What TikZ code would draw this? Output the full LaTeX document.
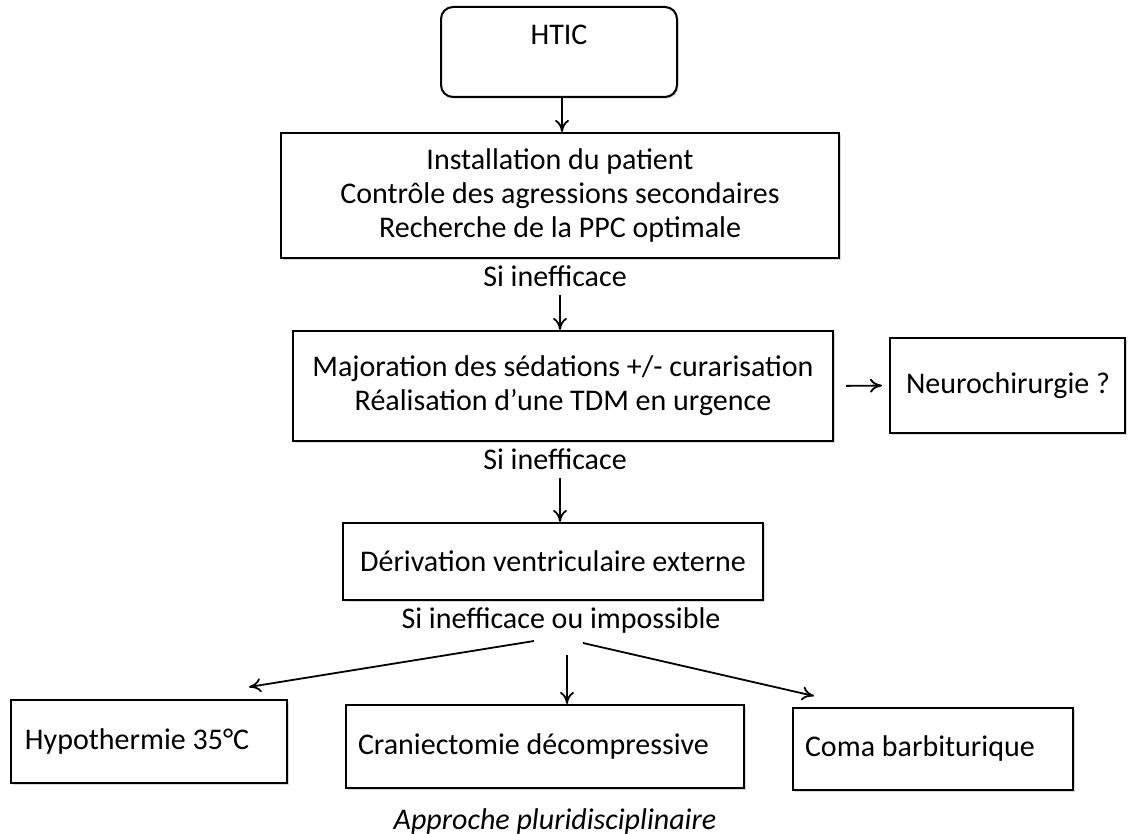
\documentclass[tikz,border=0pt]{standalone}
\usepackage{fontspec}
\setmainfont{Carlito}
\usepackage{tikz}
\usetikzlibrary{shapes, arrows.meta, positioning, shadows}

\begin{document}
\begin{tikzpicture}[
                x=0.5pt, y=-0.5pt,
                node distance=3pt,
                box/.style={rectangle, draw=black, line width=1pt, fill=white, inner sep=0pt, font=\fontsize{15}{17}\selectfont, align=center,
                    drop shadow={shadow xshift=0.8pt, shadow yshift=-0.8pt, opacity=0.3}},
                start/.style={box, rounded corners=6pt},
                note/.style={inner sep=0pt, font=\fontsize{15}{17}\selectfont},
                arrow/.style={-{To[length=6pt, width=7pt]}, line width=0.9pt}
            ]
                \useasboundingbox (0,0) rectangle (1132,834);

                % colonne principale
                \node[start, minimum width=118pt, minimum height=45pt, text height=9pt, text depth=16pt] (htic) at (559,52) {HTIC};
                \node[box, minimum width=279pt, minimum height=62.5pt] (install) at (560,195.5) {Installation du patient\\Contrôle des agressions secondaires\\Recherche de la PPC optimale};
                \node[note, below=3pt of install, xshift=-2.5pt] (si1) {Si inefficace};
                \node[box, minimum width=270pt, minimum height=55pt] (sedation) at (563,386) {Majoration des sédations +/- curarisation\\Réalisation d’une TDM en urgence};
                \node[note, below=3pt of sedation, xshift=-4pt] (si2) {Si inefficace};
                \node[box, minimum width=117.5pt, minimum height=47.5pt] (neuro) at (1007.5,385.5) {\makebox[101.5pt][l]{Neurochirurgie ?}};
                \node[box, minimum width=210pt, minimum height=38.5pt] (dve) at (553,561.5) {Dérivation ventriculaire externe};
                \node[note, below=3pt of dve, xshift=4pt] (si3) {Si inefficace ou impossible};

                % dernier recours
                \node[box, minimum width=138pt, minimum height=41.5pt] (hypo) at (149,741.5) {\makebox[124pt][l]{Hypothermie 35°C}};
                \node[box, minimum width=199pt, minimum height=41.5pt] (crani) at (545,746.5) {\makebox[187pt][l]{Craniectomie décompressive}};
                \node[box, minimum width=140pt, minimum height=41pt] (coma) at (933,749) {\makebox[128pt][l]{Coma barbiturique}};
                \node[note, below=9.5pt of crani, xshift=5pt, font=\fontsize{15}{17}\selectfont\itshape] (approche) {Approche pluridisciplinaire};

                \coordinate (f1) at (534,641);
                \coordinate (f2) at (567,655);
                \coordinate (f3) at (583,643);

                \draw[arrow] (htic.south -| 562,0) -- (install.north -| 562,0);
                \draw[arrow] ([xshift=2.5pt, yshift=-4pt]si1.south) -- ([xshift=2.5pt]si1.south |- sedation.north);
                \draw[arrow, shorten <=6pt, shorten >=3.5pt] (sedation.east) -- (neuro.west);
                \draw[arrow] ([xshift=2.5pt, yshift=-4pt]si2.south) -- ([xshift=2.5pt]si2.south |- dve.north);
                \draw[arrow] (f1) -- ([xshift=-19.5pt, yshift=6pt]hypo.north east);
                \draw[arrow] (f2) -- (f2 |- crani.north);
                \draw[arrow] (f3) -- ([xshift=11pt, yshift=5.5pt]coma.north west);
            \end{tikzpicture}
\end{document}
